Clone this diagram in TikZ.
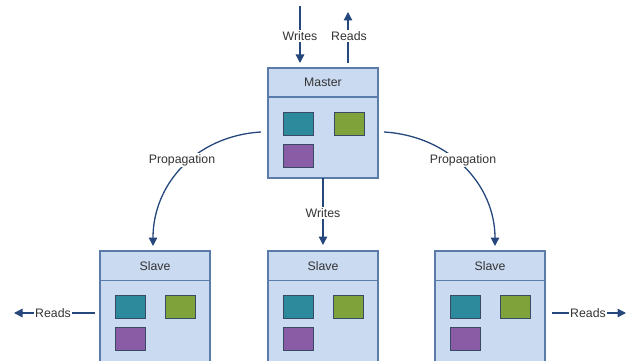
\documentclass[tikz,border=0pt]{standalone}
\usepackage{fontspec}
\setmainfont{Liberation Sans}
\usetikzlibrary{arrows.meta}
\definecolor{boxfill}{HTML}{C9DAF1}
\definecolor{boxline}{HTML}{5B7BAA}
\definecolor{arr}{HTML}{25477C}
\definecolor{tealc}{HTML}{2C8A9C}
\definecolor{greenc}{HTML}{7FA23B}
\definecolor{purplec}{HTML}{8A5CA6}
\definecolor{txt}{HTML}{333333}
\begin{document}
\begin{tikzpicture}[x=1pt,y=-1pt,
  box/.style={draw=boxline,fill=boxfill,line width=1.4pt,minimum width=110pt,minimum height=111pt,inner sep=0pt,outer sep=0pt,anchor=north west},
  sq/.style={draw=boxline!60!black,line width=0.5pt,minimum width=30pt,minimum height=23pt,inner sep=0pt,anchor=north west},
  lbl/.style={font=\fontsize{12.3}{14}\selectfont,text=txt,fill=white,inner sep=1.5pt},
  hdr/.style={font=\fontsize{12.3}{14}\selectfont,text=txt},
  conn/.style={draw=arr,line width=1.3pt,-{Triangle[length=8.5pt,width=8.5pt]}}]
\useasboundingbox (0,0) rectangle (635,361);
\clip (0,0) rectangle (635,361);
% master
\node[box,minimum height=110pt] (m) at (268,68) {};
\draw[boxline,line width=1.4pt] (268,97) -- (378,97);
\node[hdr] (mh) at (323,82.5) {Master};
\node[sq,fill=tealc] (m1) at (283,112) {};
\node[sq,fill=greenc] (m2) at (334,112) {};
\node[sq,fill=purplec] (m3) at (283,144) {};
% slaves
\foreach \n/\x in {s1/100,s2/268,s3/435}{
  \node[box,minimum height=115pt] (\n) at (\x,251) {};
  \draw[boxline,line width=1.4pt] (\x,280.5) -- (\x+110,280.5);
  \node[hdr] (\n h) at (\x+55,266) {Slave};
  \node[sq,fill=tealc] (\n a) at (\x+15,294.5) {};
  \node[sq,fill=greenc] (\n b) at (\x+65,294.5) {};
  \node[sq,fill=purplec] (\n c) at (\x+15,327) {};
}
% top writes / reads
\coordinate (wt) at (300,6);
\coordinate (wb) at (300,63);
\coordinate (rb) at (348,63);
\coordinate (rt) at (348,12);
\draw[conn] (wt) -- (wb);
\node[lbl] (wl) at (300,36) {Writes};
\draw[conn] (rb) -- (rt);
\node[lbl] (rl) at (349,36) {Reads};
% propagation
\coordinate (pl) at (261,132);
\coordinate (pr) at (384,132);
\draw[conn] (pl) .. controls (195,136) and (153,185) .. (153,246);
\node[lbl] (pll) at (182,160) {Propagation};
\draw[conn] (pr) .. controls (450,136) and (495,185) .. (495,246);
\node[lbl] (prl) at (463,160) {Propagation};
% middle writes
\draw[conn,shorten >=6pt] (m.south) -- (m.south |- s2.north);
\node[lbl] (mw) at (323,213) {Writes};
% side reads
\coordinate (lr) at (14,313);
\coordinate (rr) at (626,313);
\draw[conn] ([xshift=-5pt,yshift=-62pt]s1.north west) -- (lr);
\node[lbl] (lrl) at (53,313) {Reads};
\draw[conn] ([xshift=7pt,yshift=-62pt]s3.north east) -- (rr);
\node[lbl] (rrl) at (588,313) {Reads};
\end{tikzpicture}
\end{document}
